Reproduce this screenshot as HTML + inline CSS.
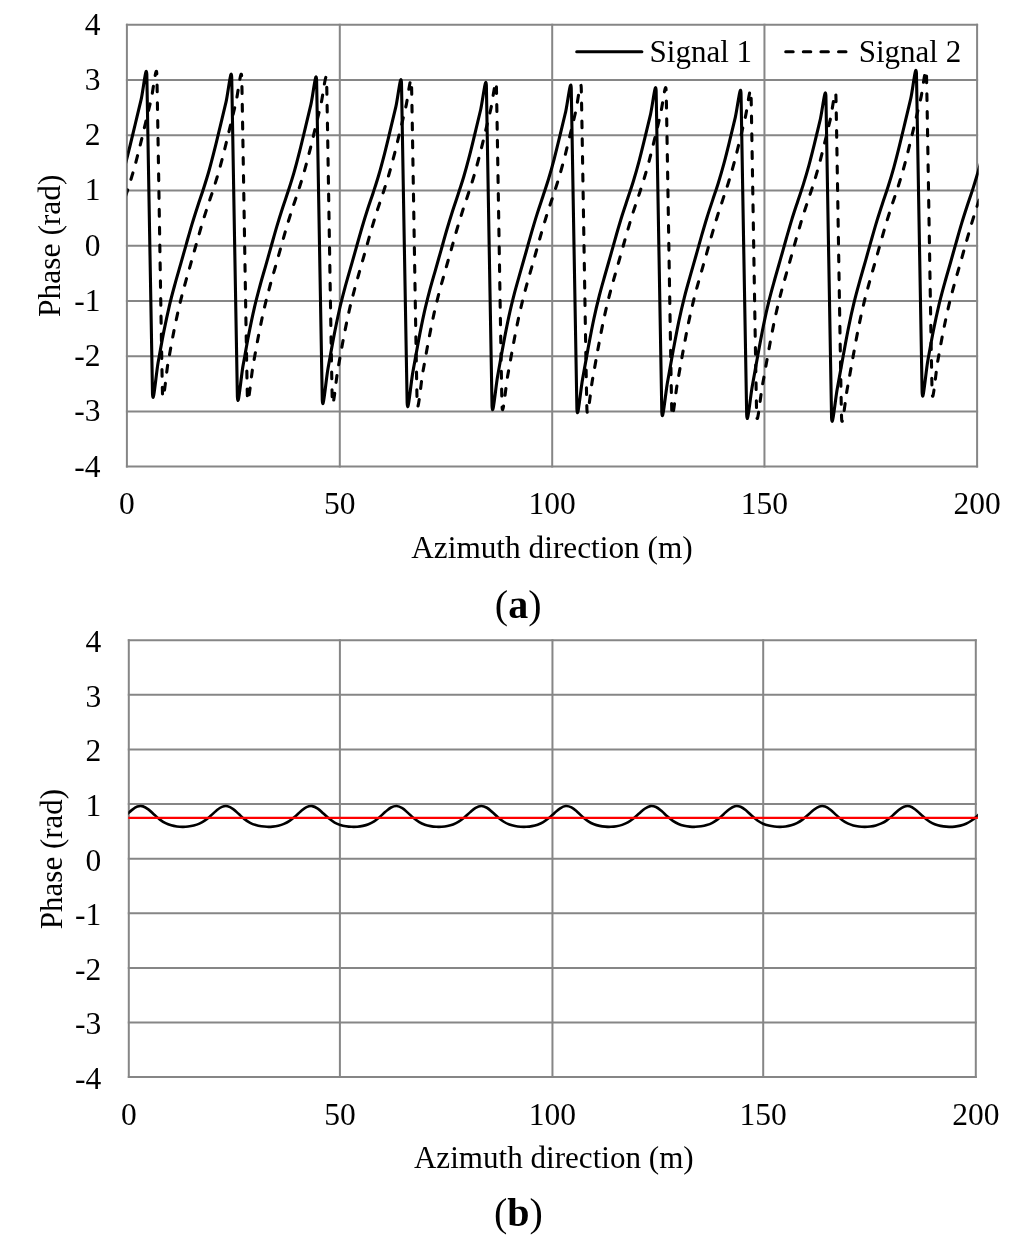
<!DOCTYPE html>
<html><head><meta charset="utf-8"><title>Phase plots</title>
<style>
html,body{margin:0;padding:0;background:#fff;}
body{width:1024px;height:1242px;overflow:hidden;}
svg{display:block;filter:blur(0.3px);}
text{font-family:"Liberation Serif","Times New Roman",serif;fill:#000;}
</style></head><body>
<svg width="1024" height="1242" viewBox="0 0 1024 1242">
<defs>
<clipPath id="ca"><rect x="127.2" y="19.8" width="851.5" height="456.8"/></clipPath>
<clipPath id="cb"><rect x="128.3" y="635.2" width="849.6000000000001" height="451.89999999999986"/></clipPath>
</defs>
<rect width="1024" height="1242" fill="#fff"/>
<!-- chart a -->
<g stroke="#868686" stroke-width="2.0" fill="none" stroke-linecap="square">
<line x1="126.90" y1="24.80" x2="977.10" y2="24.80"/>
<line x1="126.90" y1="80.03" x2="977.10" y2="80.03"/>
<line x1="126.90" y1="135.25" x2="977.10" y2="135.25"/>
<line x1="126.90" y1="190.48" x2="977.10" y2="190.48"/>
<line x1="126.90" y1="245.70" x2="977.10" y2="245.70"/>
<line x1="126.90" y1="300.93" x2="977.10" y2="300.93"/>
<line x1="126.90" y1="356.15" x2="977.10" y2="356.15"/>
<line x1="126.90" y1="411.38" x2="977.10" y2="411.38"/>
<line x1="126.90" y1="466.60" x2="977.10" y2="466.60"/>
<line x1="126.90" y1="24.80" x2="126.90" y2="466.60"/>
<line x1="339.80" y1="24.80" x2="339.80" y2="466.60"/>
<line x1="552.20" y1="24.80" x2="552.20" y2="466.60"/>
<line x1="764.45" y1="24.80" x2="764.45" y2="466.60"/>
<line x1="977.10" y1="24.80" x2="977.10" y2="466.60"/>
</g>
<g clip-path="url(#ca)" fill="none" stroke="#000" stroke-width="3.1" stroke-linejoin="round">
<path d="M118.54,187.16C120.42,180.89 122.31,175.13 124.20,168.35C126.08,161.58 127.97,154.06 129.86,146.50C131.74,138.95 133.63,130.87 135.52,123.01C137.40,115.15 139.29,107.41 141.17,99.33C143.06,91.24 146.34,61.79 146.83,74.51C147.32,87.23 151.87,377.57 152.49,393.39C153.11,409.22 156.26,372.53 158.15,362.23C160.04,351.93 161.92,341.09 163.81,331.60C165.70,322.11 167.58,313.29 169.47,305.28C171.36,297.28 173.24,290.50 175.13,283.56C177.01,276.63 178.90,270.36 180.79,263.69C182.67,257.03 184.56,250.21 186.45,243.57C188.33,236.93 190.22,230.12 192.10,223.84C193.99,217.57 195.88,211.72 197.76,205.91C199.65,200.11 201.54,194.91 203.42,189.01C205.31,183.11 207.20,177.19 209.08,170.51C210.97,163.84 212.85,156.45 214.74,148.96C216.63,141.46 218.51,133.39 220.40,125.54C222.29,117.69 224.17,109.92 226.06,101.88C227.94,93.84 231.23,64.68 231.72,77.29C232.20,89.90 236.76,380.86 237.38,396.58C237.99,412.31 241.15,375.93 243.04,365.62C244.92,355.31 246.81,344.35 248.69,334.72C250.58,325.09 252.47,316.01 254.35,307.85C256.24,299.69 258.13,292.75 260.01,285.74C261.90,278.74 263.78,272.48 265.67,265.82C267.56,259.15 269.44,252.39 271.33,245.74C273.22,239.08 275.10,232.22 276.99,225.88C278.88,219.55 280.76,213.58 282.65,207.74C284.53,201.90 286.42,196.70 288.31,190.85C290.19,185.00 292.08,179.21 293.97,172.64C295.85,166.06 297.74,158.82 299.62,151.39C301.51,143.96 303.40,135.90 305.28,128.07C307.17,120.24 309.06,112.43 310.94,104.42C312.83,96.41 316.12,67.53 316.60,80.04C317.08,92.54 321.65,384.12 322.26,399.73C322.87,415.34 326.03,379.32 327.92,369.01C329.81,358.70 331.69,347.64 333.58,337.89C335.46,328.13 337.35,318.80 339.24,310.47C341.12,302.15 343.01,295.04 344.90,287.95C346.78,280.86 348.67,274.61 350.55,267.94C352.44,261.26 354.33,254.57 356.21,247.90C358.10,241.24 359.99,234.33 361.87,227.94C363.76,221.56 365.65,215.47 367.53,209.59C369.42,203.71 371.30,198.48 373.19,192.67C375.08,186.86 376.96,181.20 378.85,174.72C380.74,168.24 382.62,161.15 384.51,153.80C386.39,146.45 388.28,138.41 390.17,130.60C392.05,122.80 393.94,114.93 395.83,106.95C397.71,98.98 401.01,70.32 401.49,82.75C401.96,95.17 406.54,387.37 407.14,402.84C407.75,418.31 410.92,382.68 412.80,372.39C414.69,362.10 416.58,350.97 418.46,341.10C420.35,331.23 422.23,321.65 424.12,313.16C426.01,304.67 427.89,297.36 429.78,290.18C431.67,282.99 433.55,276.74 435.44,270.05C437.33,263.37 439.21,256.74 441.10,250.07C442.98,243.40 444.87,236.46 446.76,230.03C448.64,223.59 450.53,217.39 452.42,211.46C454.30,205.54 456.19,200.26 458.07,194.48C459.96,188.70 461.85,183.15 463.73,176.77C465.62,170.39 467.51,163.45 469.39,156.18C471.28,148.91 473.17,140.92 475.05,133.13C476.94,125.35 478.82,117.44 480.71,109.49C482.60,101.53 485.90,73.07 486.37,85.42C486.84,97.77 491.43,390.58 492.03,405.90C492.63,421.22 495.80,386.02 497.69,375.77C499.57,365.51 501.46,354.33 503.35,344.35C505.23,334.37 507.12,324.56 509.01,315.90C510.89,307.25 512.78,299.73 514.66,292.44C516.55,285.15 518.44,278.87 520.32,272.17C522.21,265.46 524.10,258.90 525.98,252.23C527.87,245.56 529.75,238.61 531.64,232.13C533.53,225.65 535.41,219.32 537.30,213.35C539.19,207.38 541.07,202.04 542.96,196.28C544.84,190.52 546.73,185.07 548.62,178.78C550.50,172.49 552.39,165.72 554.28,158.53C556.16,151.34 558.05,143.41 559.94,135.66C561.82,127.90 563.71,119.95 565.59,112.02C567.48,104.09 570.78,75.78 571.25,88.07C571.72,100.37 576.32,393.76 576.91,408.92C577.50,424.07 580.68,389.34 582.57,379.12C584.46,368.91 586.34,357.71 588.23,347.64C590.12,337.57 592.00,327.53 593.89,318.71C595.78,309.90 597.66,302.15 599.55,294.75C601.43,287.34 603.32,281.01 605.21,274.28C607.09,267.55 608.98,261.06 610.87,254.39C612.75,247.72 614.64,240.76 616.52,234.24C618.41,227.72 620.30,221.29 622.18,215.26C624.07,209.23 625.96,203.82 627.84,198.07C629.73,192.32 631.62,186.96 633.50,180.76C635.39,174.56 637.27,167.95 639.16,160.85C641.05,153.75 642.93,145.89 644.82,138.17C646.71,130.46 648.59,122.46 650.48,114.54C652.36,106.63 655.67,78.45 656.14,90.70C656.60,102.94 661.22,396.91 661.80,411.89C662.38,426.86 665.57,392.61 667.46,382.46C669.34,372.30 671.23,361.11 673.11,350.96C675.00,340.82 676.89,330.56 678.77,321.58C680.66,312.60 682.55,304.62 684.43,297.09C686.32,289.56 688.20,283.16 690.09,276.40C691.98,269.64 693.86,263.21 695.75,256.54C697.64,249.87 699.52,242.93 701.41,236.37C703.30,229.82 705.18,223.28 707.07,217.20C708.95,211.11 710.84,205.62 712.73,199.87C714.61,194.12 716.50,188.83 718.39,182.71C720.27,176.58 722.16,170.14 724.04,163.13C725.93,156.13 727.82,148.36 729.70,140.68C731.59,133.00 733.48,124.97 735.36,117.07C737.25,109.18 740.56,81.09 741.02,93.30C741.49,105.51 746.11,400.03 746.68,414.81C747.25,429.59 750.45,395.85 752.34,385.77C754.23,375.68 756.11,364.52 758.00,354.31C759.88,344.10 761.77,333.65 763.66,324.51C765.54,315.37 767.43,307.14 769.32,299.48C771.20,291.82 773.09,285.33 774.97,278.53C776.86,271.73 778.75,265.36 780.63,258.69C782.52,252.02 784.41,245.11 786.29,238.52C788.18,231.93 790.07,225.30 791.95,219.16C793.84,213.01 795.72,207.42 797.61,201.67C799.50,195.91 801.38,190.67 803.27,184.62C805.16,178.58 807.04,172.29 808.93,165.38C810.81,158.48 812.70,150.80 814.59,143.17C816.47,135.54 818.36,127.49 820.25,119.60C822.13,111.72 825.44,83.69 825.91,95.88C826.37,108.07 831.00,403.10 831.56,417.69C832.13,432.28 835.34,399.04 837.22,389.04C839.11,379.04 841.00,367.94 842.88,357.68C844.77,347.42 846.65,336.79 848.54,327.50C850.43,318.20 852.31,309.73 854.20,301.92C856.09,294.12 857.97,287.51 859.86,280.67C861.75,273.82 863.63,267.49 865.52,260.83C867.40,254.16 869.29,247.28 871.18,240.67C873.06,234.05 874.95,227.34 876.84,221.14C878.72,214.94 880.61,209.24 882.49,203.47C884.38,197.70 886.27,192.49 888.15,186.51C890.04,180.53 891.93,174.41 893.81,167.60C895.70,160.79 897.59,153.23 899.47,145.65C901.36,138.08 903.24,130.00 905.13,122.14C907.02,114.27 908.90,106.55 910.79,98.45C912.68,90.35 915.96,60.78 916.45,73.54C916.94,86.30 921.48,376.43 922.11,392.28C922.73,408.14 925.88,371.35 927.77,361.06C929.65,350.77 931.54,339.98 933.43,330.54C935.31,321.10 937.20,312.37 939.08,304.41C940.97,296.46 942.86,289.73 944.74,282.82C946.63,275.91 948.52,269.62 950.40,262.96C952.29,256.29 954.17,249.46 956.06,242.83C957.95,236.19 959.83,229.40 961.72,223.15C963.61,216.89 965.49,211.08 967.38,205.28C969.26,199.49 971.15,194.29 973.04,188.37C974.92,182.46 976.81,176.48 978.70,169.77C980.58,163.06 982.47,155.33 984.36,148.11"/>
<path d="M117.22,221.83C119.11,215.92 120.99,209.87 122.88,204.09C124.77,198.31 126.65,193.11 128.54,187.16C130.42,181.20 132.31,175.13 134.20,168.35C136.08,161.58 137.97,154.06 139.86,146.50C141.74,138.95 143.63,130.87 145.52,123.01C147.40,115.15 149.29,107.41 151.17,99.33C153.06,91.24 156.34,61.79 156.83,74.51C157.32,87.23 161.87,377.57 162.49,393.39C163.11,409.22 166.26,372.53 168.15,362.23C170.04,351.93 171.92,341.09 173.81,331.60C175.70,322.11 177.58,313.29 179.47,305.28C181.36,297.28 183.24,290.50 185.13,283.56C187.01,276.63 188.90,270.36 190.79,263.69C192.67,257.03 194.56,250.21 196.45,243.57C198.33,236.93 200.22,230.12 202.10,223.84C203.99,217.57 205.88,211.72 207.76,205.91C209.65,200.11 211.54,194.91 213.42,189.01C215.31,183.11 217.20,177.19 219.08,170.51C220.97,163.84 222.85,156.45 224.74,148.96C226.63,141.46 228.51,133.39 230.40,125.54C232.29,117.69 234.17,109.92 236.06,101.88C237.94,93.84 241.23,64.68 241.72,77.29C242.20,89.90 246.76,380.86 247.38,396.58C247.99,412.31 251.15,375.93 253.04,365.62C254.92,355.31 256.81,344.35 258.69,334.72C260.58,325.09 262.47,316.01 264.35,307.85C266.24,299.69 268.13,292.75 270.01,285.74C271.90,278.74 273.78,272.48 275.67,265.82C277.56,259.15 279.44,252.39 281.33,245.74C283.22,239.08 285.10,232.22 286.99,225.88C288.88,219.55 290.76,213.58 292.65,207.74C294.53,201.90 296.42,196.70 298.31,190.85C300.19,185.00 302.08,179.21 303.97,172.64C305.85,166.06 307.74,158.82 309.62,151.39C311.51,143.96 313.40,135.90 315.28,128.07C317.17,120.24 319.06,112.43 320.94,104.42C322.83,96.41 326.12,67.53 326.60,80.04C327.08,92.54 331.65,384.12 332.26,399.73C332.87,415.34 336.03,379.32 337.92,369.01C339.81,358.70 341.69,347.64 343.58,337.89C345.46,328.13 347.35,318.80 349.24,310.47C351.12,302.15 353.01,295.04 354.90,287.95C356.78,280.86 358.67,274.61 360.55,267.94C362.44,261.26 364.33,254.57 366.21,247.90C368.10,241.24 369.99,234.33 371.87,227.94C373.76,221.56 375.65,215.47 377.53,209.59C379.42,203.71 381.30,198.48 383.19,192.67C385.08,186.86 386.96,181.20 388.85,174.72C390.74,168.24 392.62,161.15 394.51,153.80C396.39,146.45 398.28,138.41 400.17,130.60C402.05,122.80 403.94,114.93 405.83,106.95C407.71,98.98 411.01,70.32 411.49,82.75C411.96,95.17 416.54,387.37 417.14,402.84C417.75,418.31 420.92,382.68 422.80,372.39C424.69,362.10 426.58,350.97 428.46,341.10C430.35,331.23 432.23,321.65 434.12,313.16C436.01,304.67 437.89,297.36 439.78,290.18C441.67,282.99 443.55,276.74 445.44,270.05C447.33,263.37 449.21,256.74 451.10,250.07C452.98,243.40 454.87,236.46 456.76,230.03C458.64,223.59 460.53,217.39 462.42,211.46C464.30,205.54 466.19,200.26 468.07,194.48C469.96,188.70 471.85,183.15 473.73,176.77C475.62,170.39 477.51,163.45 479.39,156.18C481.28,148.91 483.17,140.92 485.05,133.13C486.94,125.35 488.82,117.44 490.71,109.49C492.60,101.53 495.90,73.07 496.37,85.42C496.84,97.77 501.43,390.58 502.03,405.90C502.63,421.22 505.80,386.02 507.69,375.77C509.57,365.51 511.46,354.33 513.35,344.35C515.23,334.37 517.12,324.56 519.01,315.90C520.89,307.25 522.78,299.73 524.66,292.44C526.55,285.15 528.44,278.87 530.32,272.17C532.21,265.46 534.10,258.90 535.98,252.23C537.87,245.56 539.75,238.61 541.64,232.13C543.53,225.65 545.41,219.32 547.30,213.35C549.19,207.38 551.07,202.04 552.96,196.28C554.84,190.52 556.73,185.07 558.62,178.78C560.50,172.49 562.39,165.72 564.28,158.53C566.16,151.34 568.05,143.41 569.94,135.66C571.82,127.90 573.71,119.95 575.59,112.02C577.48,104.09 580.78,75.78 581.25,88.07C581.72,100.37 586.32,393.76 586.91,408.92C587.50,424.07 590.68,389.34 592.57,379.12C594.46,368.91 596.34,357.71 598.23,347.64C600.12,337.57 602.00,327.53 603.89,318.71C605.78,309.90 607.66,302.15 609.55,294.75C611.43,287.34 613.32,281.01 615.21,274.28C617.09,267.55 618.98,261.06 620.87,254.39C622.75,247.72 624.64,240.76 626.52,234.24C628.41,227.72 630.30,221.29 632.18,215.26C634.07,209.23 635.96,203.82 637.84,198.07C639.73,192.32 641.62,186.96 643.50,180.76C645.39,174.56 647.27,167.95 649.16,160.85C651.05,153.75 652.93,145.89 654.82,138.17C656.71,130.46 658.59,122.46 660.48,114.54C662.36,106.63 665.67,78.45 666.14,90.70C666.60,102.94 671.22,396.91 671.80,411.89C672.38,426.86 675.57,392.61 677.46,382.46C679.34,372.30 681.23,361.11 683.11,350.96C685.00,340.82 686.89,330.56 688.77,321.58C690.66,312.60 692.55,304.62 694.43,297.09C696.32,289.56 698.20,283.16 700.09,276.40C701.98,269.64 703.86,263.21 705.75,256.54C707.64,249.87 709.52,242.93 711.41,236.37C713.30,229.82 715.18,223.28 717.07,217.20C718.95,211.11 720.84,205.62 722.73,199.87C724.61,194.12 726.50,188.83 728.39,182.71C730.27,176.58 732.16,170.14 734.04,163.13C735.93,156.13 737.82,148.36 739.70,140.68C741.59,133.00 743.48,124.97 745.36,117.07C747.25,109.18 750.56,81.09 751.02,93.30C751.49,105.51 756.11,400.03 756.68,414.81C757.25,429.59 760.45,395.85 762.34,385.77C764.23,375.68 766.11,364.52 768.00,354.31C769.88,344.10 771.77,333.65 773.66,324.51C775.54,315.37 777.43,307.14 779.32,299.48C781.20,291.82 783.09,285.33 784.97,278.53C786.86,271.73 788.75,265.36 790.63,258.69C792.52,252.02 794.41,245.11 796.29,238.52C798.18,231.93 800.07,225.30 801.95,219.16C803.84,213.01 805.72,207.42 807.61,201.67C809.50,195.91 811.38,190.67 813.27,184.62C815.16,178.58 817.04,172.29 818.93,165.38C820.81,158.48 822.70,150.80 824.59,143.17C826.47,135.54 828.36,127.49 830.25,119.60C832.13,111.72 835.44,83.69 835.91,95.88C836.37,108.07 841.00,403.10 841.56,417.69C842.13,432.28 845.34,399.04 847.22,389.04C849.11,379.04 851.00,367.94 852.88,357.68C854.77,347.42 856.65,336.79 858.54,327.50C860.43,318.20 862.31,309.73 864.20,301.92C866.09,294.12 867.97,287.51 869.86,280.67C871.75,273.82 873.63,267.49 875.52,260.83C877.40,254.16 879.29,247.28 881.18,240.67C883.06,234.05 884.95,227.34 886.84,221.14C888.72,214.94 890.61,209.24 892.49,203.47C894.38,197.70 896.27,192.49 898.15,186.51C900.04,180.53 901.93,174.41 903.81,167.60C905.70,160.79 907.59,153.23 909.47,145.65C911.36,138.08 913.24,130.00 915.13,122.14C917.02,114.27 918.90,106.55 920.79,98.45C922.68,90.35 925.96,60.78 926.45,73.54C926.94,86.30 931.48,376.43 932.11,392.28C932.73,408.14 935.88,371.35 937.77,361.06C939.65,350.77 941.54,339.98 943.43,330.54C945.31,321.10 947.20,312.37 949.08,304.41C950.97,296.46 952.86,289.73 954.74,282.82C956.63,275.91 958.52,269.62 960.40,262.96C962.29,256.29 964.17,249.46 966.06,242.83C967.95,236.19 969.83,229.40 971.72,223.15C973.61,216.89 975.49,211.08 977.38,205.28C979.26,199.49 981.15,194.29 983.04,188.37C984.92,182.46 986.81,175.97 988.70,169.77" stroke-dasharray="6.75 11.025" stroke-dashoffset="8.60" stroke-linecap="round"/>
</g>
<g stroke="#000" stroke-width="3" stroke-linecap="round" fill="none">
<line x1="576.7" y1="51.7" x2="641.9" y2="51.7"/>
<line x1="785.7" y1="51.7" x2="850.9" y2="51.7" stroke-dasharray="7.5 10.1"/>
</g>
<g font-size="31.5">
<text x="649.6" y="61.6" font-size="31.0">Signal 1</text>
<text x="858.7" y="61.6" font-size="31.0">Signal 2</text>
<text x="100.6" y="34.70" text-anchor="end">4</text>
<text x="100.6" y="89.93" text-anchor="end">3</text>
<text x="100.6" y="145.15" text-anchor="end">2</text>
<text x="100.6" y="200.38" text-anchor="end">1</text>
<text x="100.6" y="255.60" text-anchor="end">0</text>
<text x="100.6" y="310.82" text-anchor="end">-1</text>
<text x="100.6" y="366.05" text-anchor="end">-2</text>
<text x="100.6" y="421.27" text-anchor="end">-3</text>
<text x="100.6" y="476.50" text-anchor="end">-4</text>
<text x="126.90" y="513.6" text-anchor="middle">0</text>
<text x="339.80" y="513.6" text-anchor="middle">50</text>
<text x="552.20" y="513.6" text-anchor="middle">100</text>
<text x="764.45" y="513.6" text-anchor="middle">150</text>
<text x="977.10" y="513.6" text-anchor="middle">200</text>
<text x="552.0" y="557.6" text-anchor="middle" font-size="31.3">Azimuth direction (m)</text>
<text transform="translate(59.6,245.70) rotate(-90)" text-anchor="middle">Phase (rad)</text>
</g>
<text x="494.8" y="618.3" font-size="40">(<tspan font-weight="bold">a</tspan>)</text>
<!-- chart b -->
<g stroke="#868686" stroke-width="2.0" fill="none" stroke-linecap="square">
<line x1="128.80" y1="640.20" x2="975.70" y2="640.20"/>
<line x1="128.80" y1="694.81" x2="975.70" y2="694.81"/>
<line x1="128.80" y1="749.42" x2="975.70" y2="749.42"/>
<line x1="128.80" y1="804.04" x2="975.70" y2="804.04"/>
<line x1="128.80" y1="858.65" x2="975.70" y2="858.65"/>
<line x1="128.80" y1="913.26" x2="975.70" y2="913.26"/>
<line x1="128.80" y1="967.88" x2="975.70" y2="967.88"/>
<line x1="128.80" y1="1022.49" x2="975.70" y2="1022.49"/>
<line x1="128.80" y1="1077.10" x2="975.70" y2="1077.10"/>
<line x1="128.80" y1="640.20" x2="128.80" y2="1077.10"/>
<line x1="339.90" y1="640.20" x2="339.90" y2="1077.10"/>
<line x1="552.45" y1="640.20" x2="552.45" y2="1077.10"/>
<line x1="763.20" y1="640.20" x2="763.20" y2="1077.10"/>
<line x1="975.80" y1="640.20" x2="975.80" y2="1077.10"/>
</g>
<g clip-path="url(#cb)" fill="none" stroke-linejoin="round">
<path d="M120.47,819.97C122.35,818.38 124.23,816.86 126.11,815.22C127.99,813.57 129.87,811.55 131.75,810.11C133.62,808.67 135.50,807.22 137.38,806.60C139.26,805.97 141.14,805.87 143.02,806.37C144.90,806.87 146.78,808.20 148.66,809.59C150.53,810.98 152.41,813.02 154.29,814.69C156.17,816.37 158.05,818.22 159.93,819.63C161.81,821.05 163.69,822.24 165.57,823.18C167.45,824.13 169.32,824.76 171.20,825.30C173.08,825.84 174.96,826.16 176.84,826.42C178.72,826.67 180.60,826.80 182.48,826.83C184.36,826.86 186.24,826.78 188.11,826.57C189.99,826.36 191.87,826.06 193.75,825.58C195.63,825.09 197.51,824.51 199.39,823.65C201.27,822.79 203.15,821.74 205.03,820.43C206.90,819.12 208.78,817.44 210.66,815.81C212.54,814.18 214.42,812.15 216.30,810.66C218.18,809.16 220.06,807.59 221.94,806.85C223.82,806.11 225.69,805.84 227.57,806.21C229.45,806.58 231.33,807.77 233.21,809.08C235.09,810.40 236.97,812.41 238.85,814.08C240.73,815.76 242.61,817.66 244.48,819.12C246.36,820.59 248.24,821.86 250.12,822.86C252.00,823.86 253.88,824.54 255.76,825.11C257.64,825.69 259.52,826.04 261.40,826.33C263.27,826.61 265.15,826.77 267.03,826.82C268.91,826.87 270.79,826.82 272.67,826.63C274.55,826.45 276.43,826.18 278.31,825.73C280.19,825.28 282.06,824.74 283.94,823.93C285.82,823.12 287.70,822.13 289.58,820.87C291.46,819.62 293.34,818.00 295.22,816.39C297.10,814.78 298.98,812.76 300.85,811.22C302.73,809.68 304.61,808.01 306.49,807.15C308.37,806.30 310.25,805.85 312.13,806.09C314.01,806.34 315.89,807.38 317.76,808.61C319.64,809.84 321.52,811.81 323.40,813.47C325.28,815.14 327.16,817.09 329.04,818.60C330.92,820.11 332.80,821.46 334.68,822.51C336.55,823.56 338.43,824.30 340.31,824.92C342.19,825.54 344.07,825.92 345.95,826.23C347.83,826.54 349.71,826.72 351.59,826.79C353.47,826.87 355.34,826.84 357.22,826.69C359.10,826.54 360.98,826.29 362.86,825.87C364.74,825.46 366.62,824.96 368.50,824.19C370.38,823.43 372.26,822.50 374.13,821.30C376.01,820.09 377.89,818.55 379.77,816.96C381.65,815.38 383.53,813.37 385.41,811.79C387.29,810.22 389.17,808.46 391.05,807.50C392.92,806.53 394.80,805.92 396.68,806.03C398.56,806.14 400.44,807.03 402.32,808.17C404.20,809.31 406.08,811.21 407.96,812.86C409.84,814.51 411.71,816.51 413.59,818.06C415.47,819.60 417.35,821.03 419.23,822.14C421.11,823.25 422.99,824.04 424.87,824.71C426.75,825.37 428.63,825.78 430.50,826.12C432.38,826.46 434.26,826.66 436.14,826.76C438.02,826.87 439.90,826.86 441.78,826.74C443.66,826.61 445.54,826.39 447.42,826.01C449.29,825.62 451.17,825.16 453.05,824.44C454.93,823.72 456.81,822.86 458.69,821.70C460.57,820.55 462.45,819.08 464.33,817.53C466.21,815.97 468.08,813.99 469.96,812.38C471.84,810.77 473.72,808.94 475.60,807.88C477.48,806.81 479.36,806.03 481.24,806.01C483.12,805.99 485.00,806.72 486.87,807.76C488.75,808.80 490.63,810.64 492.51,812.26C494.39,813.88 496.27,815.92 498.15,817.50C500.03,819.08 501.91,820.59 503.78,821.75C505.66,822.92 507.54,823.77 509.42,824.48C511.30,825.19 513.18,825.63 515.06,826.00C516.94,826.38 518.82,826.59 520.70,826.72C522.57,826.85 524.45,826.87 526.33,826.77C528.21,826.68 530.09,826.48 531.97,826.13C533.85,825.78 535.73,825.34 537.61,824.67C539.49,824.00 541.36,823.19 543.24,822.09C545.12,820.99 547.00,819.59 548.88,818.07C550.76,816.55 552.64,814.61 554.52,812.98C556.40,811.35 558.28,809.45 560.15,808.29C562.03,807.14 563.91,806.19 565.79,806.04C567.67,805.89 569.55,806.45 571.43,807.39C573.31,808.32 575.19,810.08 577.07,811.67C578.94,813.26 580.82,815.31 582.70,816.93C584.58,818.54 586.46,820.13 588.34,821.34C590.22,822.56 592.10,823.49 593.98,824.24C595.86,824.99 597.73,825.47 599.61,825.87C601.49,826.28 603.37,826.52 605.25,826.67C607.13,826.83 609.01,826.88 610.89,826.80C612.77,826.73 614.65,826.56 616.52,826.24C618.40,825.92 620.28,825.52 622.16,824.89C624.04,824.26 625.92,823.50 627.80,822.45C629.68,821.41 631.56,820.08 633.44,818.60C635.31,817.12 637.19,815.22 639.07,813.58C640.95,811.93 642.83,809.98 644.71,808.74C646.59,807.50 648.47,806.41 650.35,806.13C652.23,805.84 654.10,806.23 655.98,807.05C657.86,807.88 659.74,809.54 661.62,811.09C663.50,812.63 665.38,814.70 667.26,816.34C669.14,817.98 671.02,819.64 672.89,820.91C674.77,822.19 676.65,823.18 678.53,823.98C680.41,824.79 682.29,825.30 684.17,825.74C686.05,826.17 687.93,826.44 689.80,826.62C691.68,826.80 693.56,826.87 695.44,826.82C697.32,826.78 699.20,826.63 701.08,826.34C702.96,826.05 704.84,825.68 706.72,825.09C708.59,824.50 710.47,823.80 712.35,822.80C714.23,821.80 716.11,820.55 717.99,819.12C719.87,817.68 721.75,815.83 723.63,814.18C725.51,812.53 727.38,810.54 729.26,809.22C731.14,807.90 733.02,806.67 734.90,806.26C736.78,805.85 738.66,806.06 740.54,806.77C742.42,807.48 744.30,809.02 746.17,810.52C748.05,812.02 749.93,814.09 751.81,815.74C753.69,817.40 755.57,819.14 757.45,820.46C759.33,821.79 761.21,822.85 763.09,823.71C764.96,824.56 766.84,825.11 768.72,825.59C770.60,826.06 772.48,826.34 774.36,826.55C776.24,826.76 778.12,826.85 780.00,826.83C781.88,826.81 783.75,826.69 785.63,826.43C787.51,826.17 789.39,825.83 791.27,825.28C793.15,824.73 795.03,824.07 796.91,823.13C798.79,822.18 800.67,821.01 802.54,819.61C804.42,818.22 806.30,816.43 808.18,814.78C810.06,813.13 811.94,811.12 813.82,809.73C815.70,808.33 817.58,806.97 819.46,806.43C821.33,805.90 823.21,805.93 825.09,806.52C826.97,807.11 828.85,808.54 830.73,809.97C832.61,811.41 834.49,813.47 836.37,815.14C838.25,816.81 840.12,818.61 842.00,819.99C843.88,821.37 845.76,822.51 847.64,823.41C849.52,824.32 851.40,824.91 853.28,825.42C855.16,825.93 857.03,826.24 858.91,826.48C860.79,826.71 862.67,826.83 864.55,826.83C866.43,826.84 868.31,826.75 870.19,826.52C872.07,826.29 873.95,825.97 875.82,825.45C877.70,824.94 879.58,824.33 881.46,823.44C883.34,822.54 885.22,821.44 887.10,820.09C888.98,818.75 890.86,817.01 892.74,815.37C894.61,813.74 896.49,811.71 898.37,810.25C900.25,808.80 902.13,807.31 904.01,806.66C905.89,806.00 907.77,805.86 909.65,806.32C911.53,806.79 913.40,808.08 915.28,809.45C917.16,810.82 919.04,812.86 920.92,814.53C922.80,816.21 924.68,818.07 926.56,819.50C928.44,820.93 930.32,822.14 932.19,823.10C934.07,824.06 935.95,824.70 937.83,825.25C939.71,825.80 941.59,826.13 943.47,826.39C945.35,826.66 947.23,826.80 949.11,826.83C950.98,826.86 952.86,826.79 954.74,826.59C956.62,826.39 958.50,826.09 960.38,825.62C962.26,825.14 964.14,824.57 966.02,823.73C967.90,822.88 969.77,821.84 971.65,820.55C973.53,819.26 975.41,817.59 977.29,815.96C979.17,814.34 981.05,812.52 982.93,810.80" stroke="#000" stroke-width="2.6"/>
<line x1="126.80000000000001" y1="817.9" x2="979.7" y2="817.9" stroke="#ff0000" stroke-width="2.4"/>
</g>
<g font-size="31.5">
<text x="101.3" y="652.10" text-anchor="end">4</text>
<text x="101.3" y="706.71" text-anchor="end">3</text>
<text x="101.3" y="761.32" text-anchor="end">2</text>
<text x="101.3" y="815.94" text-anchor="end">1</text>
<text x="101.3" y="870.55" text-anchor="end">0</text>
<text x="101.3" y="925.16" text-anchor="end">-1</text>
<text x="101.3" y="979.77" text-anchor="end">-2</text>
<text x="101.3" y="1034.39" text-anchor="end">-3</text>
<text x="101.3" y="1089.00" text-anchor="end">-4</text>
<text x="128.80" y="1125.4" text-anchor="middle">0</text>
<text x="339.90" y="1125.4" text-anchor="middle">50</text>
<text x="552.45" y="1125.4" text-anchor="middle">100</text>
<text x="763.20" y="1125.4" text-anchor="middle">150</text>
<text x="975.80" y="1125.4" text-anchor="middle">200</text>
<text x="553.8" y="1167.9" text-anchor="middle" font-size="31.1">Azimuth direction (m)</text>
<text transform="translate(61.9,859.0) rotate(-90)" text-anchor="middle" font-size="31.0">Phase (rad)</text>
</g>
<text x="494.0" y="1226.4" font-size="40">(<tspan font-weight="bold">b</tspan>)</text>
</svg>
</body></html>
